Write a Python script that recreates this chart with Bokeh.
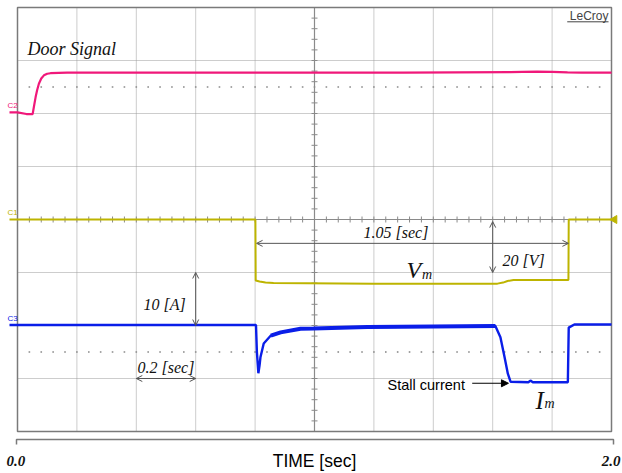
import numpy as np
from bokeh.plotting import figure
from bokeh.models import Range1d, Label, Arrow, OpenHead, NormalHead
from bokeh.embed import file_html
from bokeh.resources import INLINE

# ---------------- scope settings ----------------
sec_per_div = 0.2
n_xdiv = 10
n_ydiv = 8
t_end = sec_per_div * n_xdiv          # 2.0 s

# ---------------- traces (time [s], screen level [div]) ----------------
door_t = [-0.027, 0.0, 0.030, 0.051, 0.056, 0.061, 0.066, 0.072, 0.080, 0.089, 0.100,
          0.111, 0.167, 0.60, 1.00, 1.30, 1.66, 1.70, 1.75, 1.80, 1.852, 1.90, 2.0]
door_v = [6.02, 6.02, 5.99, 5.99, 6.15, 6.31, 6.44, 6.56, 6.66, 6.72, 6.75,
          6.76, 6.77, 6.77, 6.77, 6.77, 6.78, 6.785, 6.79, 6.785, 6.775, 6.77, 6.77]

vm_t = [-0.027, 0.801, 0.802, 0.815, 0.835, 0.862, 1.20, 1.616, 1.635, 1.650, 1.670,
        1.750, 1.855, 1.856, 2.0]
vm_v = [4.00, 4.00, 2.85, 2.83, 2.81, 2.80, 2.79, 2.79, 2.81, 2.84, 2.86,
        2.86, 2.86, 4.00, 4.00]

im_t = [-0.027, 0.803, 0.806, 0.811, 0.815, 0.818, 0.829, 0.853, 0.886, 0.953, 0.997,
        1.178, 1.40, 1.609, 1.626, 1.640, 1.651, 1.660, 1.720, 1.727, 1.735, 1.853,
        1.856, 1.875, 2.0]
im_v = [2.01, 2.01, 1.50, 1.10, 1.25, 1.40, 1.66, 1.81, 1.87, 1.94, 1.945,
        1.97, 1.98, 1.99, 1.78, 1.40, 1.09, 0.94, 0.93, 0.96, 0.93, 0.93,
        1.96, 2.02, 2.02]

MAGENTA = "#f0187a"
YELLOW = "#bdb400"
BLUE = "#0a1ee8"
GRID = "#9a9a9a"
FRAME = "#7a7a7a"

# ---------------- figure ----------------
xpx, ypx = 297.0, 53.0   # pixels per second / per division
p = figure(width=622, height=473, output_backend="svg", toolbar_location=None,
           x_range=Range1d(-17 / xpx, t_end + 11 / xpx),
           y_range=Range1d(-42 / ypx, n_ydiv + 7 / ypx),
           x_axis_type=None, y_axis_type=None, min_border=0,
           outline_line_color=None, background_fill_color="white",
           border_fill_color="white")
p.grid.visible = False

# graticule
gx = [sec_per_div * k for k in range(1, n_xdiv) if k != n_xdiv // 2]
gy = [k for k in range(1, n_ydiv) if k != n_ydiv // 2]
p.segment(x0=gx, x1=gx, y0=[0] * len(gx), y1=[n_ydiv] * len(gx),
          line_color=GRID, line_width=1, line_dash="1 1")
p.segment(x0=[0] * len(gy), x1=[t_end] * len(gy), y0=gy, y1=gy,
          line_color=GRID, line_width=1, line_dash="1 1")
# sparse dotted reference rows
tx = np.arange(0, t_end + 1e-9, sec_per_div / 5)
for yy in (6.5, 1.5):
    p.scatter(tx[1:-1], np.full(len(tx) - 2, yy), marker="square", size=1.6,
              fill_color="#8a8a8a", line_color=None)
# center cross with ticks
p.segment(x0=[t_end / 2, 0], x1=[t_end / 2, t_end], y0=[0, n_ydiv / 2], y1=[n_ydiv, n_ydiv / 2],
          line_color="#8a8a8a", line_width=1.2)
ty = np.arange(0, n_ydiv + 1e-9, 0.2)
p.scatter(tx, np.full(len(tx), n_ydiv / 2), marker="dash", angle=np.pi / 2, size=6,
          line_color="#8a8a8a", line_width=1)
p.scatter(np.full(len(ty), t_end / 2), ty, marker="dash", size=6,
          line_color="#8a8a8a", line_width=1)
# frame
p.quad(left=[0], right=[t_end], bottom=[0], top=[n_ydiv], fill_color=None,
       line_color=FRAME, line_width=1.5)

# traces
p.line(door_t, door_v, line_color=MAGENTA, line_width=2.2)
p.line(vm_t, vm_v, line_color=YELLOW, line_width=2)
p.line(im_t, im_v, line_color=BLUE, line_width=2.4)
run = [i for i, t in enumerate(im_t) if 0.83 <= t <= 1.61]
p.line([im_t[i] for i in run], [im_v[i] for i in run], line_color=BLUE, line_width=4)

# trigger-level marker
p.scatter([t_end + 3 / xpx], [n_ydiv / 2], marker="triangle", angle=np.pi / 2, size=8,
          fill_color=YELLOW, line_color=YELLOW)

# channel labels
for txt, yy, col in (("C2", 6.15, MAGENTA), ("C1", 4.13, YELLOW), ("C3", 2.13, BLUE)):
    p.add_layout(Label(x=-0.034, y=yy, text=txt, text_font="Liberation Sans",
                       text_font_size="8px", text_color=col, text_baseline="middle"))

SERIF = "Liberation Serif"
SANS = "Liberation Sans"
def lab(x, y, text, size, font=SERIF, style="italic", align="left", color="#111111", dy=5):
    p.add_layout(Label(x=x, y=y, text=text, text_font=font, text_font_size=size,
                       text_font_style=style, text_align=align, text_color=color,
                       text_baseline="alphabetic", y_offset=dy))

lab(0.034, 7.12, "Door Signal", "18px")
lab(1.99, 7.77, "LeCroy", "12px", font=SANS, style="normal",
    align="right", color="#444444", dy=4)
p.segment(x0=[1.851], x1=[1.990], y0=[7.73], y1=[7.73], line_color="#444444", line_width=1)

lab(0.424, 2.30, "10 [A]", "16px")
lab(0.404, 1.11, "0.2 [sec]", "16px")
lab(1.165, 3.655, "1.05 [sec]", "16px")
lab(1.633, 3.13, "20 [V]", "16px")
lab(1.310, 2.95, "V", "24px")
lab(1.362, 2.87, "m", "14px")
lab(1.744, 0.50, "I", "25px")
lab(1.774, 0.43, "m", "14px")
lab(1.246, 0.79, "Stall current", "14.5px", font=SANS, style="normal", color="#000000")

lab(1.0, -0.642, "TIME [sec]", "17.5px", font=SANS, style="normal",
    align="center", color="#000000")
lab(-0.037, -0.66, "0.0", "15px", style="bold italic")
lab(2.030, -0.66, "2.0", "15px", style="bold italic", align="right")

# time bracket
p.line([-1 / xpx, -1 / xpx, t_end + 2 / xpx, t_end + 2 / xpx], [-0.245, -0.151, -0.151, -0.245],
       line_color=FRAME, line_width=1.5)

# dimension arrows
ARW = "#555555"
def darrow(x0, y0, x1, y1):
    p.add_layout(Arrow(start=OpenHead(size=6, line_color=ARW, line_width=1),
                       end=OpenHead(size=6, line_color=ARW, line_width=1),
                       x_start=x0, y_start=y0, x_end=x1, y_end=y1,
                       line_color=ARW, line_width=1))

darrow(0.60, 3.0, 0.60, 2.0)                 # 10 [A]
darrow(0.40, 1.0, 0.60, 1.0)                 # 0.2 [sec]
darrow(0.805, 3.55, 1.855, 3.55)             # 1.05 [sec]
darrow(1.600, 3.96, 1.600, 3.0)              # 20 [V]
p.add_layout(Arrow(end=NormalHead(size=7, fill_color="black", line_color="black"),
                   x_start=1.531, y_start=0.91, x_end=1.653, y_end=0.91,
                   line_color="black", line_width=1.2))

open("out.html", "w").write(file_html(p, INLINE))
